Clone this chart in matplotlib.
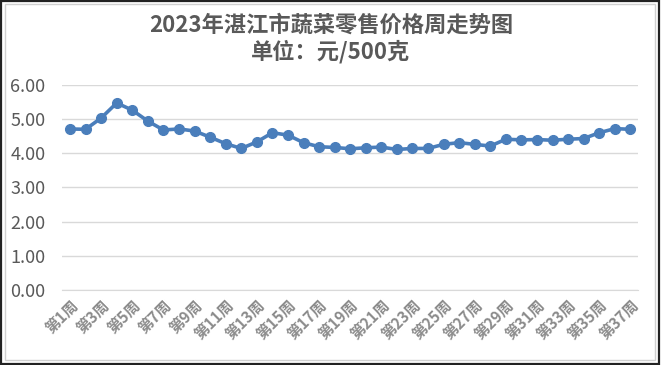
import matplotlib
matplotlib.use('Agg')
import matplotlib.pyplot as plt
from matplotlib.patches import Rectangle

plt.rcParams['font.family'] = ['Noto Sans CJK SC', 'DejaVu Sans']

# weekly vegetable retail price, yuan per 500 g
weeks = ['第{}周'.format(i) for i in range(1, 38)]
prices = [4.71, 4.70, 5.03, 5.47, 5.26, 4.94, 4.68, 4.71, 4.65, 4.47,
          4.28, 4.14, 4.33, 4.60, 4.53, 4.31, 4.19, 4.17, 4.13, 4.16,
          4.18, 4.11, 4.14, 4.14, 4.26, 4.31, 4.26, 4.21, 4.41, 4.39,
          4.40, 4.38, 4.41, 4.43, 4.60, 4.72, 4.70]
yticks = [0, 1, 2, 3, 4, 5, 6]

title = '2023年湛江市蔬菜零售价格周走势图\n单位：元/500克'

fig = plt.figure(figsize=(6.62, 3.65), dpi=100)
ax = fig.add_axes([0.094, 0.2055, 0.870, 0.562])

x = list(range(len(prices)))
ax.plot(x, prices, color='#4a7ebb', lw=2.6, marker='o', ms=7,
        markerfacecolor='#4a7ebb', markeredgecolor='#4a7ebb', zorder=3)

ax.set_xlim(-0.5, len(prices) - 0.5)
ax.set_ylim(0, 6)
ax.set_yticks(yticks)
ax.set_yticklabels(['{:.2f}'.format(v) for v in yticks], fontsize=13,
                   color='#595959')
ax.set_xticks(x[::2])
ax.set_xticklabels(weeks[::2], rotation=45, ha='right', rotation_mode='anchor',
                   fontsize=11, fontweight='bold', color='#8c8c8c')
ax.tick_params(axis='both', length=0)
ax.tick_params(axis='y', pad=12)
ax.tick_params(axis='x', pad=5)
ax.grid(axis='y', color='#d9d9d9', lw=1)
ax.set_axisbelow(True)
for s in ['top', 'right', 'left']:
    ax.spines[s].set_visible(False)
ax.spines['bottom'].set_color('#d9d9d9')

fig.text(0.5, 0.895, title, ha='center', va='center', fontsize=16,
         fontweight='bold', color='#595959', linespacing=1.15)

# frame around the chart
fig.patches.append(Rectangle((0.002, 0.004), 0.994, 0.992, transform=fig.transFigure,
                             fill=False, edgecolor='#222222', lw=1.6))
fig.patches.append(Rectangle((0.008, 0.014), 0.982, 0.975, transform=fig.transFigure,
                             fill=False, edgecolor='#d0d0d0', lw=1))

fig.savefig('out.png', dpi=100)
